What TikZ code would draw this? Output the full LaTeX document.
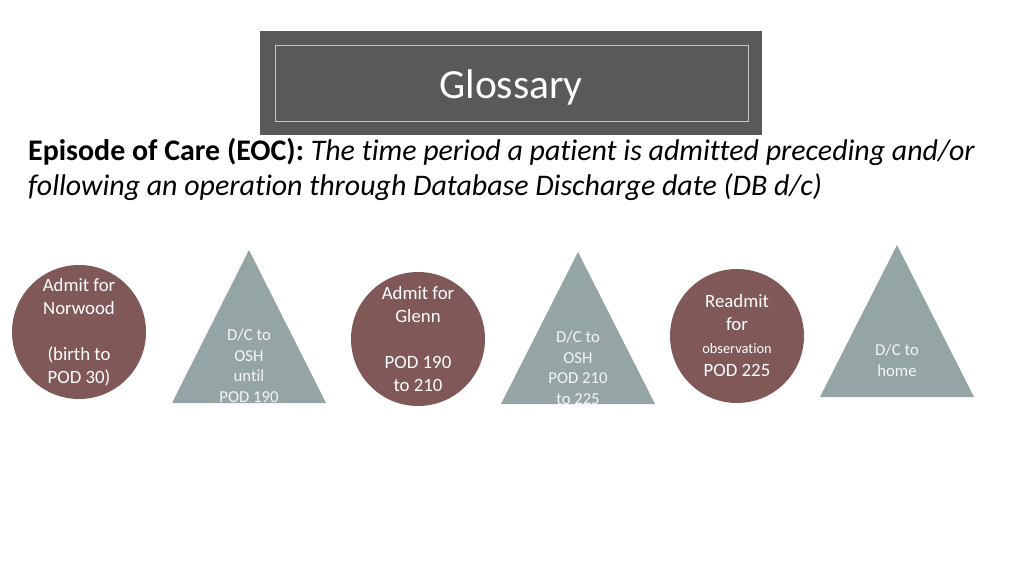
\documentclass[tikz,border=0pt]{standalone}
\usepackage{fontspec}
\setmainfont{Carlito}[Ligatures={NoCommon}]
\definecolor{circ}{RGB}{128,88,88}
\definecolor{tri}{RGB}{149,165,166}
\definecolor{tbox}{RGB}{89,89,89}
\definecolor{tritext}{RGB}{242,245,245}
\begin{document}
\begin{tikzpicture}[x=1pt,y=-1pt,
  circnode/.style={circle,fill=circ,minimum size=134pt,inner sep=0pt,text=white,align=center,font=\fontsize{18.8}{23}\selectfont},
  tritxt/.style={text=tritext,align=center,font=\fontsize{16.7}{20.5}\selectfont,inner sep=0pt},
  trifill/.style={fill=tri}]
\useasboundingbox (0,0) rectangle (1024,576);
% title
\node[fill=tbox,minimum width=502pt,minimum height=104pt,inner sep=0pt] (titlebox) at (511,83) {};
\node[draw=white!78!black,line width=1pt,minimum width=473pt,minimum height=76pt,inner sep=0pt] (titleinner) at (511.5,83) {};
\node[text=white,font=\fontsize{41.5}{44}\selectfont] (title) at (511,87) {Glossary};
% definition
\node[anchor=base west,inner sep=0pt,font=\fontsize{29.9}{35}\selectfont] (def1) at (28,160) {\textbf{Episode of Care (EOC):} \textit{The time period a patient is admitted preceding and/or}};
\node[anchor=base west,inner sep=0pt,font=\fontsize{29.9}{35}\selectfont] (def2) at (28,195) {\textit{following an operation through Database Discharge date (DB d/c)}};
% circles
\node[circnode] (c1) at (79,332) {Admit for\\Norwood\\[23pt](birth to\\POD 30)};
\node[circnode] (c2) at (418,339) {Admit for\\Glenn\\[23pt]POD 190\\to 210};
\node[circnode] (c3) at (737,336) {Readmit\\for\\{\fontsize{14.4}{18}\selectfont observation}\\POD 225};
% triangles
\fill[trifill] (249,250) -- (326,403) -- (172,403) -- cycle;
\node[tritxt] (t1) at (249,366) {D/C to\\OSH\\until\\POD 190};
\fill[trifill] (578,252) -- (655,404) -- (501,404) -- cycle;
\node[tritxt] (t2) at (578,368) {D/C to\\OSH\\POD 210\\to 225};
\fill[trifill] (897,245) -- (974,397) -- (820,397) -- cycle;
\node[tritxt] (t3) at (897,360.5) {D/C to\\home};
\end{tikzpicture}
\end{document}
